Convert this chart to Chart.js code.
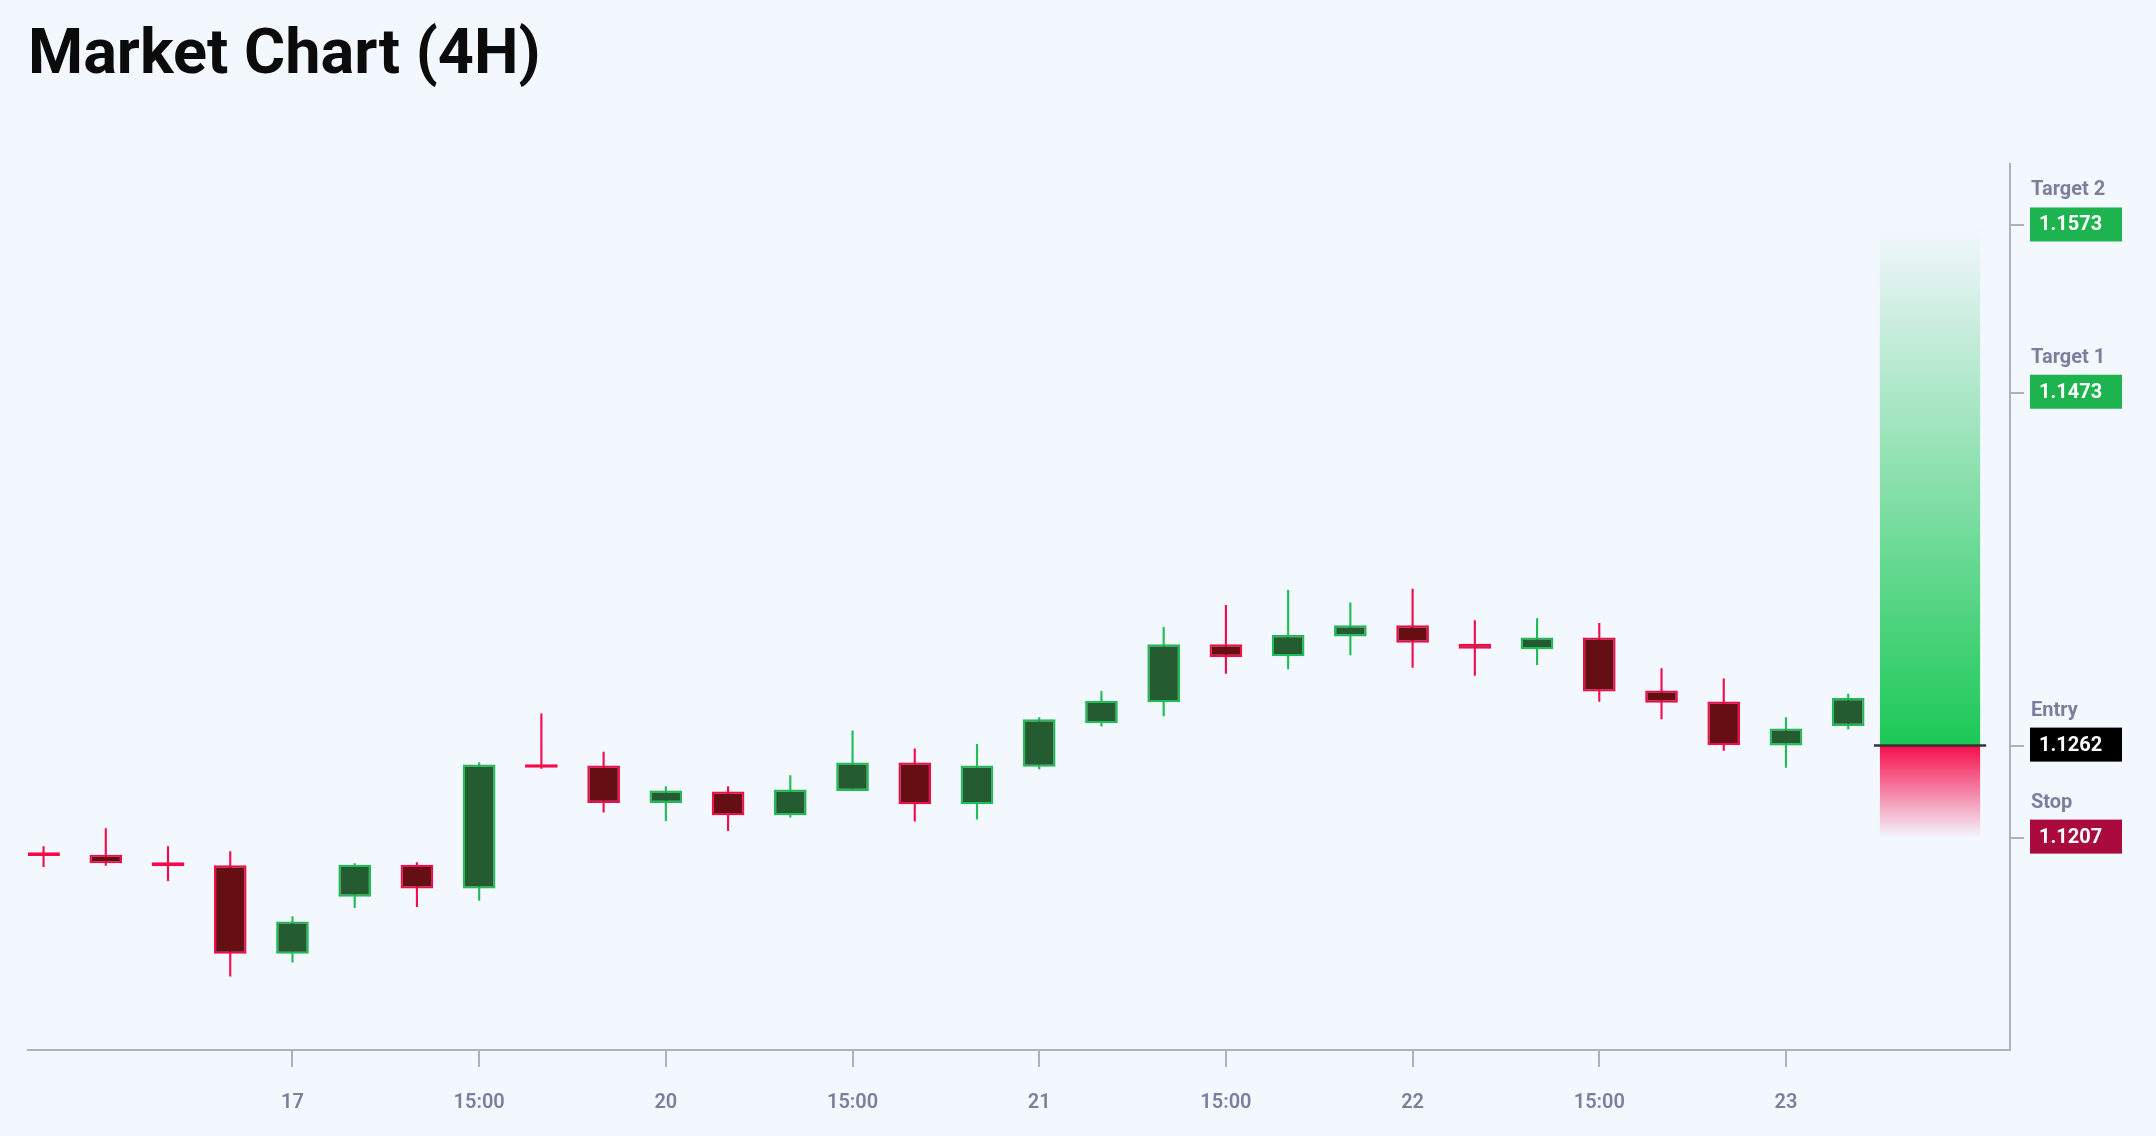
<!DOCTYPE html>
<html>
<head>
<meta charset="utf-8">
<title>Market Chart (4H)</title>
<script src="https://cdn.jsdelivr.net/npm/chart.js@4.4.1/dist/chart.umd.min.js"></script>
<style>
  html, body { margin: 0; padding: 0; background: #f3f7fe; }
  #wrap { position: relative; width: 2156px; height: 1136px; }
</style>
</head>
<body>
<div id="wrap"><canvas id="chart"></canvas></div>
<script>
// 4H candles, one per slot (index 0..29)
const opens  = [1.11982, 1.11968, 1.11922, 1.11904, 1.11375, 1.11717, 1.11908, 1.11765, 1.12509, 1.12501,
                1.12277, 1.12345, 1.12204, 1.12349, 1.12519, 1.12269, 1.12493, 1.12754, 1.12880, 1.13226,
                1.13154, 1.13273, 1.13339, 1.13229, 1.13196, 1.13267, 1.12950, 1.12884, 1.12621, 1.12738];
const highs  = [1.12018, 1.12126, 1.12018, 1.11988, 1.11599, 1.11916, 1.11922, 1.12521, 1.12812, 1.12583,
                1.12377, 1.12377, 1.12443, 1.12711, 1.12603, 1.12629, 1.12790, 1.12946, 1.13329, 1.13461,
                1.13551, 1.13475, 1.13558, 1.13369, 1.13381, 1.13353, 1.13082, 1.13022, 1.12790, 1.12930];
const lows   = [1.11894, 1.11902, 1.11810, 1.11240, 1.11323, 1.11649, 1.11655, 1.11693, 1.12481, 1.12220,
                1.12169, 1.12110, 1.12190, 1.12349, 1.12166, 1.12178, 1.12479, 1.12735, 1.12796, 1.13050,
                1.13076, 1.13161, 1.13085, 1.13038, 1.13102, 1.12882, 1.12777, 1.12589, 1.12487, 1.12718];
const closes = [1.11960, 1.11916, 1.11898, 1.11375, 1.11569, 1.11908, 1.11765, 1.12507, 1.12487, 1.12277,
                1.12351, 1.12204, 1.12357, 1.12519, 1.12269, 1.12501, 1.12777, 1.12888, 1.13226, 1.13150,
                1.13281, 1.13339, 1.13235, 1.13199, 1.13267, 1.12944, 1.12876, 1.12623, 1.12723, 1.12904];

// x axis labels and the candle slot each one sits on
const tickLabels = ['17', '15:00', '20', '15:00', '21', '15:00', '22', '15:00', '23'];
const tickAt     = [4, 7, 10, 13, 16, 19, 22, 25, 28];

// trade levels
const levelNames  = ['Target 2', 'Target 1', 'Entry', 'Stop'];
const levelValues = [1.1573, 1.1473, 1.1262, 1.1207];
const levelColors = ['#1db34f', '#1db34f', '#000000', '#ab0a3c'];

// trade zone spans these slots
const zoneFrom = 29.51;
const zoneTo = 31.12;

const target2 = levelValues[0];
const entry = levelValues[2];
const stop = levelValues[3];

const bullFill = '#245b30', bullEdge = '#1fbd58';
const bearFill = '#650e14', bearEdge = '#f50b4b';
const axisGray = '#b0b0b6';
const labelGray = '#7b7f9c';

function isBull(i) { return closes[i] >= opens[i]; }

function zoneGradient(ctx, from, to, rgb) {
  const chart = ctx.chart;
  if (!chart.chartArea) return 'rgba(' + rgb + ',0.5)';
  const y = chart.scales.y;
  const g = chart.ctx.createLinearGradient(0, y.getPixelForValue(from), 0, y.getPixelForValue(to));
  g.addColorStop(0, 'rgba(' + rgb + ',1)');
  g.addColorStop(1, 'rgba(' + rgb + ',0)');
  return g;
}

const entryLine = {
  id: 'entryLine',
  afterDatasetsDraw(chart) {
    const c = chart.ctx, x = chart.scales.x, y = chart.scales.y;
    const py = y.getPixelForValue(entry);
    c.save();
    c.strokeStyle = '#333333';
    c.lineWidth = 2.5;
    c.beginPath();
    c.moveTo(x.getPixelForValue(zoneFrom) - 6, py);
    c.lineTo(x.getPixelForValue(zoneTo) + 6, py);
    c.stroke();
    c.restore();
  }
};

const levelLabels = {
  id: 'levelLabels',
  afterDraw(chart) {
    const c = chart.ctx, y = chart.scales.y;
    const left = y.left + 20;
    c.save();
    c.textAlign = 'left';
    levelValues.forEach(function(v, k) {
      const py = y.getPixelForValue(v);
      c.fillStyle = levelColors[k];
      c.fillRect(left, py - 18, 92, 34);
      c.font = 'bold 20px Roboto';
      c.fillStyle = '#ffffff';
      c.textBaseline = 'middle';
      c.fillText(v.toFixed(4), left + 9, py);
      c.fillStyle = labelGray;
      c.textBaseline = 'alphabetic';
      c.fillText(levelNames[k], left + 1, py - 30);
    });
    c.restore();
  }
};

const bodies = opens.map((o, i) => ({ x: i, y: [o, closes[i]] }));
const wicks = lows.map((l, i) => ({ x: i, y: [l, highs[i]] }));

new Chart(document.getElementById('chart'), {
  type: 'bar',
  data: {
    datasets: [
      {
        data: bodies,
        grouped: false,
        categoryPercentage: 1,
        barPercentage: 0.525,
        borderWidth: 2.2,
        borderSkipped: false,
        backgroundColor: ctx => isBull(ctx.dataIndex) ? bullFill : bearFill,
        borderColor: ctx => isBull(ctx.dataIndex) ? bullEdge : bearEdge
      },
      {
        data: wicks,
        grouped: false,
        categoryPercentage: 1,
        barPercentage: 0.034,
        borderWidth: 0,
        backgroundColor: ctx => isBull(ctx.dataIndex) ? bullEdge : bearEdge
      },
      {
        data: [{ x: (zoneFrom + zoneTo) / 2, y: [entry, target2] }],
        grouped: false,
        categoryPercentage: 1,
        barPercentage: zoneTo - zoneFrom,
        borderWidth: 0,
        backgroundColor: ctx => zoneGradient(ctx, entry, target2, '26,200,86')
      },
      {
        data: [{ x: (zoneFrom + zoneTo) / 2, y: [stop, entry] }],
        grouped: false,
        categoryPercentage: 1,
        barPercentage: zoneTo - zoneFrom,
        borderWidth: 0,
        backgroundColor: ctx => zoneGradient(ctx, entry, stop, '245,14,76')
      }
    ]
  },
  options: {
    responsive: true,
    maintainAspectRatio: false,
    animation: false,
    layout: { padding: { left: 28, right: 0, top: 0, bottom: 0 } },
    plugins: {
      legend: { display: false },
      tooltip: { enabled: false },
      title: {
        display: true,
        text: 'Market Chart (4H)',
        align: 'start',
        color: '#0b0b0b',
        font: { family: 'Roboto', size: 63, weight: 'bold', lineHeight: 1.2 },
        padding: { top: 19, bottom: 69 }
      }
    },
    scales: {
      x: {
        type: 'linear',
        min: -0.25,
        max: 31.6,
        offset: false,
        afterBuildTicks: s => { s.ticks = tickAt.map(v => ({ value: v })); },
        afterFit: s => { s.height = 86; },
        ticks: {
          padding: 24,
          maxRotation: 0,
          autoSkip: false,
          color: labelGray,
          font: { family: 'Roboto', size: 20, weight: '600' },
          callback: v => {
            const k = tickAt.indexOf(v);
            return k < 0 ? '' : tickLabels[k];
          }
        },
        grid: { offset: false, drawOnChartArea: false, drawTicks: true, tickLength: 17, color: axisGray, lineWidth: 2 },
        border: { display: true, color: axisGray, width: 2 }
      },
      y: {
        position: 'right',
        min: 1.108,
        max: 1.161,
        afterBuildTicks: s => { s.ticks = levelValues.map(v => ({ value: v })); },
        afterFit: s => { s.width = 146; },
        ticks: { display: false },
        grid: { drawOnChartArea: false, drawTicks: true, tickLength: 14, color: axisGray, lineWidth: 2 },
        border: { display: true, color: axisGray, width: 2 }
      }
    }
  },
  plugins: [entryLine, levelLabels]
});
</script>
</body>
</html>
